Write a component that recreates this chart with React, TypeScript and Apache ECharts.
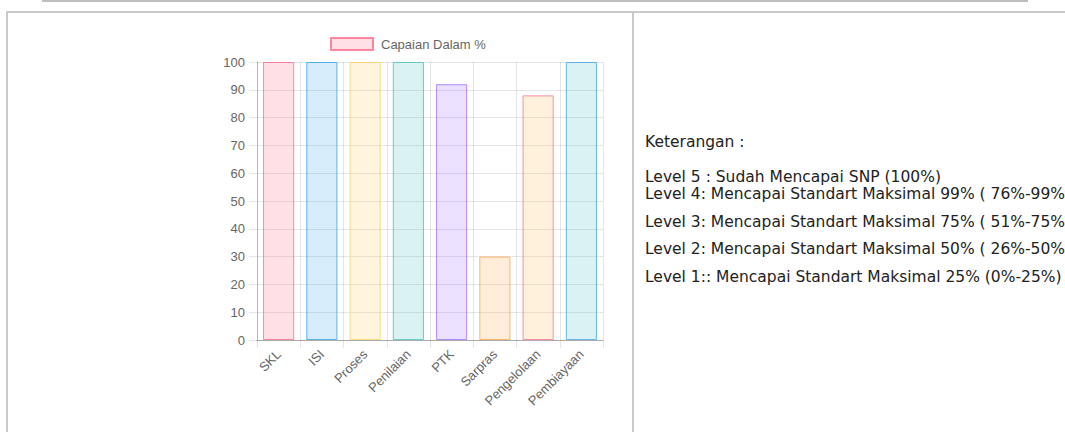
import React, { useEffect, useRef } from "react";
import * as echarts from "echarts";

const categories = ["SKL", "ISI", "Proses", "Penilaian", "PTK", "Sarpras", "Pengelolaan", "Pembiayaan"];
const values = [100, 100, 100, 100, 92, 30, 88, 100];
const seriesName = "Capaian Dalam %";
const yTicks = { min: 0, max: 100, interval: 10 };

const fillColors = [
  "rgba(255,99,132,0.2)",
  "rgba(54,162,235,0.2)",
  "rgba(255,206,86,0.2)",
  "rgba(75,192,192,0.2)",
  "rgba(153,102,255,0.2)",
  "rgba(255,159,64,0.2)",
  "rgba(255,185,80,0.2)",
  "rgba(75,192,192,0.2)",
];
const borderColors = [
  "rgba(255,99,132,0.75)",
  "rgba(54,162,235,0.8)",
  "rgba(255,206,86,0.75)",
  "rgba(75,192,192,0.8)",
  "rgba(153,102,255,0.75)",
  "rgba(255,159,64,0.75)",
  "rgba(255,99,132,0.7)",
  "rgba(54,162,235,0.75)",
];

const notesTitle = "Keterangan :";
const notes = [
  "Level 5 : Sudah Mencapai SNP (100%)",
  "Level 4: Mencapai Standart Maksimal 99% ( 76%-99%)",
  "Level 3: Mencapai Standart Maksimal 75% ( 51%-75%)",
  "Level 2: Mencapai Standart Maksimal 50% ( 26%-50%)",
  "Level 1:: Mencapai Standart Maksimal 25% (0%-25%)",
];
const noteY = [177, 194, 221.5, 249, 276.5];

export default function App() {
  const ref = useRef<HTMLDivElement>(null);
  useEffect(() => {
    if (!ref.current) return;
    const chart = echarts.init(ref.current, undefined, { renderer: "svg" });
    const font = "'Liberation Sans', Arial, Helvetica, sans-serif";
    const noteFont = "'DejaVu Sans', Verdana, sans-serif";
    const border = "#c9c9c9";
    chart.setOption({
      animation: false,
      backgroundColor: "#ffffff",
      legend: {
        left: 325,
        top: 32,
        itemWidth: 42,
        itemHeight: 12,
        icon: "rect",
        textStyle: { color: "#666", fontSize: 13, fontFamily: font, padding: [0, 0, 0, 3] },
        data: [seriesName],
      },
      grid: { left: 257, right: 462, top: 62, bottom: 92, containLabel: false },
      xAxis: {
        type: "category",
        data: categories,
        axisLine: { show: true, lineStyle: { color: "rgba(0,0,0,0.25)", width: 1 } },
        axisTick: { show: true, length: 8, lineStyle: { color: "rgba(0,0,0,0.1)" } },
        splitLine: { show: true, lineStyle: { color: "rgba(0,0,0,0.1)" } },
        axisLabel: { rotate: 45, color: "#666", fontSize: 13, fontFamily: font, margin: 12, interval: 0 },
      },
      yAxis: {
        type: "value",
        min: yTicks.min,
        max: yTicks.max,
        interval: yTicks.interval,
        axisLine: { show: true, lineStyle: { color: "rgba(0,0,0,0.2)", width: 1 } },
        axisTick: { show: true, length: 8, lineStyle: { color: "rgba(0,0,0,0.1)" } },
        splitLine: { show: true, lineStyle: { color: "rgba(0,0,0,0.1)" } },
        axisLabel: { color: "#666", fontSize: 13, fontFamily: font, margin: 12 },
      },
      series: [
        {
          name: seriesName,
          type: "bar",
          barCategoryGap: "28%",
          itemStyle: { color: "rgba(255,99,132,0.2)", borderColor: "rgba(255,99,132,0.75)", borderWidth: 1 },
          data: values.map((v, i) => ({
            value: v,
            itemStyle: { color: fillColors[i], borderColor: borderColors[i], borderWidth: 1 },
          })),
        },
      ],
      graphic: [
        { type: "line", shape: { x1: 42, y1: 1, x2: 1028, y2: 1 }, style: { stroke: "#bdbdbd", lineWidth: 2 } },
        { type: "line", shape: { x1: 6, y1: 12, x2: 1065, y2: 12 }, style: { stroke: border, lineWidth: 2 } },
        { type: "line", shape: { x1: 7, y1: 11, x2: 7, y2: 432 }, style: { stroke: border, lineWidth: 2 } },
        { type: "line", shape: { x1: 633, y1: 11, x2: 633, y2: 432 }, style: { stroke: border, lineWidth: 2 } },
        {
          type: "text",
          x: 645,
          y: 141.5,
          style: { text: notesTitle, fill: "#222", fontSize: 15.5, fontFamily: noteFont, verticalAlign: "middle" },
        },
        ...notes.map((t, i) => ({
          type: "text",
          x: 645,
          y: noteY[i],
          style: { text: t, fill: "#222", fontSize: 15.5, fontFamily: noteFont, verticalAlign: "middle" },
        })),
      ],
    });
    return () => chart.dispose();
  }, []);
  return (
    <div
      ref={ref}
      style={{ position: "fixed", left: 0, top: 0, width: 1065, height: 432, background: "#fff" }}
    />
  );
}
